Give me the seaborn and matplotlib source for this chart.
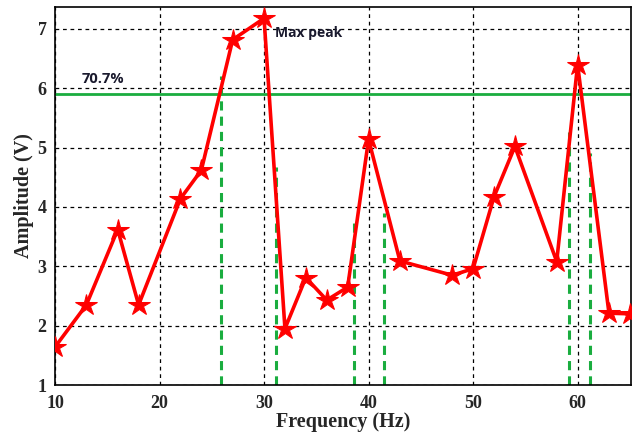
import matplotlib
matplotlib.use("Agg")
import matplotlib.pyplot as plt
import seaborn as sns
import pandas as pd

# Measured response
freq = [10, 13, 16, 18, 22, 24, 27, 30, 32, 34, 36, 38, 40, 43, 48, 50, 52, 54, 58, 60, 63, 65]
amp = [1.64, 2.35, 3.62, 2.35, 4.14, 4.62, 6.82, 7.18, 1.95, 2.81, 2.43, 2.65, 5.14, 3.09, 2.85, 2.96, 4.17, 5.02, 3.08, 6.40, 2.21, 2.20]

# Half-power threshold and band-edge markers
threshold = 5.9
edge_freq = [25.9, 31.1, 38.65, 41.5, 59.2, 61.2]
edge_top = [6.2, 4.68, 3.8, 3.9, 5.27, 4.91]

xticks = [10, 20, 30, 40, 50, 60]
yticks = [1, 2, 3, 4, 5, 6, 7]

sns.set_style("white")
serif = ["Liberation Serif", "DejaVu Serif"]
sans = ["Open Sans", "DejaVu Sans"]

fig = plt.figure(figsize=(6.36, 4.4), dpi=100)
ax = fig.add_axes([0.0865, 0.125, 0.9055, 0.859])

df = pd.DataFrame({"Frequency": freq, "Amplitude": amp})

ax.axhline(threshold, color="#1aad3f", lw=2.0, zorder=2)
for f, t in zip(edge_freq, edge_top):
    ax.plot([f, f], [1, t], color="#1aad3f", lw=2.2, ls=(0, (3, 2)), zorder=2)

sns.lineplot(data=df, x="Frequency", y="Amplitude", ax=ax, color="red",
             lw=2.6, marker="*", markersize=16, markeredgecolor="red",
             markerfacecolor="red", zorder=3)

ax.set_xlim(10, 65.1)
ax.set_ylim(1, 7.37)
ax.set_xticks(xticks)
ax.set_yticks(yticks)
ax.grid(True, color="black", ls=(0, (3, 3)), lw=0.9)
ax.tick_params(direction="in", length=4, width=1, color="black")
ax.tick_params(axis="x", pad=7)
ax.tick_params(axis="y", pad=6)
for lab in ax.get_xticklabels() + ax.get_yticklabels():
    lab.set_fontfamily(serif)
    lab.set_fontweight("bold")
    lab.set_fontsize(13)

for sp in ax.spines.values():
    sp.set_color("black")
    sp.set_linewidth(1.2)

ax.set_xlabel("Frequency (Hz)", fontfamily=serif, fontweight="bold", fontsize=14.5, labelpad=0)
ax.set_ylabel("Amplitude (V)", fontfamily=serif, fontweight="bold", fontsize=14.5, labelpad=3)

ax.text(31.0, 6.93, "Max peak", fontsize=10, fontweight="bold", color="#1a1a2e",
        fontfamily=sans, va="center", ha="left")
ax.text(12.5, 6.15, "70.7%", fontsize=10.5, fontweight="bold", color="#1a1a2e",
        fontfamily=sans, va="center", ha="left")

fig.savefig("out.png", dpi=100)
